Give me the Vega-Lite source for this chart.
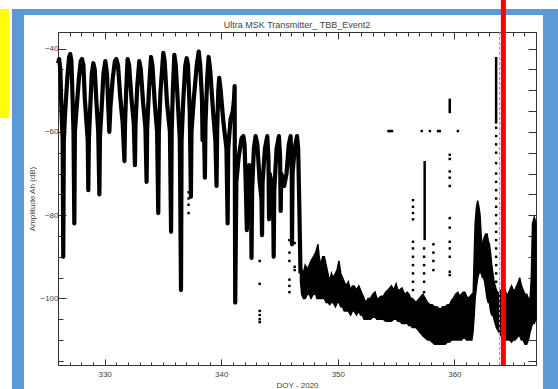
{
  "$schema": "https://vega.github.io/schema/vega-lite/v6.json",
  "width": 478,
  "height": 333,
  "autosize": {"type": "none"},
  "padding": {"left": 58, "top": 32, "right": 22, "bottom": 24},
  "background": "white",
  "title": {"text": "Ultra MSK Transmitter_ TBB_Event2", "fontSize": 9, "fontWeight": "normal", "color": "#444", "offset": 0, "dy": 33, "frame": "group", "font": "Liberation Sans"},
  "config": {"view": {"stroke": null}, "font": "Liberation Sans"},
  "datasets": {
    "yellowbox": [{"doy": 321.03, "doy2": 321.8, "amp": -30.47, "amp2": -56.66}],
    "frame": [
      {"doy": 322.05, "doy2": 368.9, "amp": -30.47, "amp2": -31.92},
      {"doy": 322.05, "doy2": 323.08, "amp": -30.47, "amp2": -121.8},
      {"doy": 367.6, "doy2": 368.9, "amp": -30.47, "amp2": -121.8}
    ],
    "trace": [
      {"doy": 326.0, "amp": -43.5}, {"doy": 326.1, "amp": -42.5}, {"doy": 326.2, "amp": -45}, {"doy": 326.3, "amp": -55}, {"doy": 326.4, "amp": -62}, {"doy": 326.45, "amp": -90}, {"doy": 326.5, "amp": -62}, {"doy": 326.6, "amp": -56}, {"doy": 326.8, "amp": -47}, {"doy": 326.95, "amp": -42},
      {"doy": 327.05, "amp": -41.3}, {"doy": 327.15, "amp": -43}, {"doy": 327.25, "amp": -52}, {"doy": 327.33, "amp": -60}, {"doy": 327.4, "amp": -82}, {"doy": 327.45, "amp": -60}, {"doy": 327.55, "amp": -56}, {"doy": 327.8, "amp": -47}, {"doy": 327.95, "amp": -43},
      {"doy": 328.06, "amp": -42.5}, {"doy": 328.18, "amp": -44}, {"doy": 328.3, "amp": -52}, {"doy": 328.45, "amp": -58}, {"doy": 328.55, "amp": -62}, {"doy": 328.6, "amp": -74}, {"doy": 328.65, "amp": -62}, {"doy": 328.75, "amp": -55}, {"doy": 328.9, "amp": -46},
      {"doy": 329.03, "amp": -43.5}, {"doy": 329.15, "amp": -45}, {"doy": 329.3, "amp": -53}, {"doy": 329.45, "amp": -60}, {"doy": 329.55, "amp": -75}, {"doy": 329.6, "amp": -61}, {"doy": 329.75, "amp": -54}, {"doy": 329.9, "amp": -46},
      {"doy": 330.06, "amp": -43}, {"doy": 330.2, "amp": -46}, {"doy": 330.3, "amp": -53}, {"doy": 330.4, "amp": -60}, {"doy": 330.5, "amp": -54}, {"doy": 330.7, "amp": -47}, {"doy": 330.88, "amp": -43},
      {"doy": 331.0, "amp": -42.5}, {"doy": 331.15, "amp": -44}, {"doy": 331.35, "amp": -52}, {"doy": 331.55, "amp": -58}, {"doy": 331.7, "amp": -67}, {"doy": 331.75, "amp": -58}, {"doy": 331.85, "amp": -50},
      {"doy": 331.97, "amp": -42.5}, {"doy": 332.1, "amp": -44}, {"doy": 332.3, "amp": -52}, {"doy": 332.5, "amp": -58}, {"doy": 332.6, "amp": -68}, {"doy": 332.65, "amp": -58}, {"doy": 332.8, "amp": -49},
      {"doy": 332.97, "amp": -43}, {"doy": 333.1, "amp": -45}, {"doy": 333.3, "amp": -53}, {"doy": 333.5, "amp": -59}, {"doy": 333.6, "amp": -72}, {"doy": 333.65, "amp": -59}, {"doy": 333.8, "amp": -50},
      {"doy": 333.98, "amp": -42}, {"doy": 334.1, "amp": -44}, {"doy": 334.3, "amp": -53}, {"doy": 334.5, "amp": -60}, {"doy": 334.6, "amp": -79.5}, {"doy": 334.65, "amp": -60}, {"doy": 334.8, "amp": -50},
      {"doy": 335.03, "amp": -41}, {"doy": 335.15, "amp": -43}, {"doy": 335.35, "amp": -53}, {"doy": 335.6, "amp": -60}, {"doy": 335.7, "amp": -84}, {"doy": 335.75, "amp": -60}, {"doy": 335.85, "amp": -50},
      {"doy": 335.98, "amp": -41.5}, {"doy": 336.1, "amp": -44}, {"doy": 336.3, "amp": -54}, {"doy": 336.45, "amp": -62}, {"doy": 336.55, "amp": -98}, {"doy": 336.6, "amp": -62}, {"doy": 336.75, "amp": -52}, {"doy": 336.92, "amp": -44},
      {"doy": 337.04, "amp": -42.3}, {"doy": 337.15, "amp": -44}, {"doy": 337.3, "amp": -55}, {"doy": 337.4, "amp": -75.6}, {"doy": 337.45, "amp": -60}, {"doy": 337.65, "amp": -52}, {"doy": 337.9, "amp": -44},
      {"doy": 338.07, "amp": -40.7}, {"doy": 338.2, "amp": -44}, {"doy": 338.35, "amp": -52}, {"doy": 338.4, "amp": -62}, {"doy": 338.5, "amp": -56}, {"doy": 338.6, "amp": -71}, {"doy": 338.65, "amp": -58}, {"doy": 338.8, "amp": -47},
      {"doy": 338.92, "amp": -42}, {"doy": 339.05, "amp": -45}, {"doy": 339.3, "amp": -55}, {"doy": 339.5, "amp": -62}, {"doy": 339.6, "amp": -73}, {"doy": 339.65, "amp": -60}, {"doy": 339.75, "amp": -50},
      {"doy": 339.83, "amp": -47}, {"doy": 339.95, "amp": -50}, {"doy": 340.2, "amp": -58}, {"doy": 340.45, "amp": -64}, {"doy": 340.55, "amp": -82}, {"doy": 340.6, "amp": -64}, {"doy": 340.8, "amp": -57},
      {"doy": 341.0, "amp": -55}, {"doy": 341.1, "amp": -52}, {"doy": 341.15, "amp": -49}, {"doy": 341.2, "amp": -101}, {"doy": 341.3, "amp": -72},
      {"doy": 341.5, "amp": -66}, {"doy": 341.75, "amp": -61.5}, {"doy": 341.9, "amp": -61}, {"doy": 342.0, "amp": -63}, {"doy": 342.1, "amp": -72}, {"doy": 342.2, "amp": -83.6}, {"doy": 342.25, "amp": -72},
      {"doy": 342.4, "amp": -68}, {"doy": 342.55, "amp": -75}, {"doy": 342.6, "amp": -90.3}, {"doy": 342.65, "amp": -74}, {"doy": 342.8, "amp": -64}, {"doy": 342.95, "amp": -61},
      {"doy": 343.1, "amp": -63}, {"doy": 343.3, "amp": -72}, {"doy": 343.45, "amp": -76}, {"doy": 343.5, "amp": -84.8}, {"doy": 343.55, "amp": -72}, {"doy": 343.75, "amp": -64}, {"doy": 343.95, "amp": -61},
      {"doy": 344.05, "amp": -66}, {"doy": 344.1, "amp": -81}, {"doy": 344.15, "amp": -70}, {"doy": 344.3, "amp": -72}, {"doy": 344.45, "amp": -76}, {"doy": 344.5, "amp": -90}, {"doy": 344.55, "amp": -74}, {"doy": 344.75, "amp": -64}, {"doy": 344.95, "amp": -61},
      {"doy": 345.05, "amp": -66}, {"doy": 345.1, "amp": -79}, {"doy": 345.15, "amp": -70}, {"doy": 345.4, "amp": -73}, {"doy": 345.6, "amp": -70}, {"doy": 345.8, "amp": -63}, {"doy": 345.95, "amp": -61},
      {"doy": 346.05, "amp": -70}, {"doy": 346.07, "amp": -87}, {"doy": 346.12, "amp": -70}, {"doy": 346.3, "amp": -64}, {"doy": 346.5, "amp": -61}, {"doy": 346.6, "amp": -64}, {"doy": 346.7, "amp": -78}, {"doy": 346.8, "amp": -94}
    ],
    "band": [
      {"doy": 346.8, "amp": -93, "amp2": -96}, {"doy": 346.9, "amp": -93, "amp2": -99}, {"doy": 347.05, "amp": -94, "amp2": -100}, {"doy": 347.2, "amp": -92, "amp2": -100}, {"doy": 347.4, "amp": -93, "amp2": -99}, {"doy": 347.55, "amp": -92, "amp2": -99},
      {"doy": 347.7, "amp": -91, "amp2": -100}, {"doy": 347.9, "amp": -90, "amp2": -99}, {"doy": 348.1, "amp": -89, "amp2": -99}, {"doy": 348.2, "amp": -88, "amp2": -100}, {"doy": 348.3, "amp": -87, "amp2": -100}, {"doy": 348.4, "amp": -90, "amp2": -100},
      {"doy": 348.55, "amp": -92, "amp2": -100}, {"doy": 348.7, "amp": -90, "amp2": -100}, {"doy": 348.85, "amp": -90, "amp2": -100}, {"doy": 349.0, "amp": -92, "amp2": -101}, {"doy": 349.15, "amp": -94, "amp2": -101}, {"doy": 349.3, "amp": -96, "amp2": -101.5},
      {"doy": 349.45, "amp": -94, "amp2": -101}, {"doy": 349.6, "amp": -95, "amp2": -101}, {"doy": 349.8, "amp": -94, "amp2": -102}, {"doy": 349.95, "amp": -93, "amp2": -101}, {"doy": 350.1, "amp": -91, "amp2": -101}, {"doy": 350.25, "amp": -94, "amp2": -102},
      {"doy": 350.4, "amp": -95, "amp2": -102}, {"doy": 350.55, "amp": -96, "amp2": -103}, {"doy": 350.7, "amp": -97, "amp2": -103}, {"doy": 350.9, "amp": -96, "amp2": -103}, {"doy": 351.1, "amp": -98, "amp2": -104}, {"doy": 351.25, "amp": -97, "amp2": -103},
      {"doy": 351.4, "amp": -97, "amp2": -103}, {"doy": 351.6, "amp": -98, "amp2": -104}, {"doy": 351.8, "amp": -97, "amp2": -103}, {"doy": 351.95, "amp": -98, "amp2": -104}, {"doy": 352.1, "amp": -99, "amp2": -104}, {"doy": 352.25, "amp": -100, "amp2": -105},
      {"doy": 352.4, "amp": -101, "amp2": -105}, {"doy": 352.6, "amp": -100, "amp2": -105}, {"doy": 352.8, "amp": -100, "amp2": -105}, {"doy": 353.0, "amp": -99, "amp2": -104.5}, {"doy": 353.2, "amp": -98.5, "amp2": -104.5}, {"doy": 353.35, "amp": -100, "amp2": -105},
      {"doy": 353.5, "amp": -100, "amp2": -105}, {"doy": 353.7, "amp": -99.5, "amp2": -105}, {"doy": 353.9, "amp": -99.5, "amp2": -105}, {"doy": 354.1, "amp": -98.5, "amp2": -105.5}, {"doy": 354.3, "amp": -98, "amp2": -105.5}, {"doy": 354.45, "amp": -97.5, "amp2": -105.5},
      {"doy": 354.6, "amp": -97, "amp2": -105.5}, {"doy": 354.8, "amp": -98, "amp2": -105}, {"doy": 355.0, "amp": -96.5, "amp2": -105}, {"doy": 355.15, "amp": -98, "amp2": -105.5}, {"doy": 355.3, "amp": -98, "amp2": -105.5}, {"doy": 355.5, "amp": -97.5, "amp2": -106},
      {"doy": 355.65, "amp": -98.5, "amp2": -106}, {"doy": 355.8, "amp": -99, "amp2": -106}, {"doy": 355.95, "amp": -98.5, "amp2": -106}, {"doy": 356.1, "amp": -99, "amp2": -106.5}, {"doy": 356.25, "amp": -100, "amp2": -106.5}, {"doy": 356.4, "amp": -100, "amp2": -107},
      {"doy": 356.55, "amp": -100.5, "amp2": -107}, {"doy": 356.7, "amp": -101, "amp2": -107}, {"doy": 356.85, "amp": -100.5, "amp2": -107.5}, {"doy": 357.0, "amp": -100, "amp2": -108}, {"doy": 357.15, "amp": -99.5, "amp2": -108.5}, {"doy": 357.3, "amp": -99, "amp2": -109},
      {"doy": 357.5, "amp": -100, "amp2": -109.5}, {"doy": 357.7, "amp": -101, "amp2": -110}, {"doy": 357.9, "amp": -101.5, "amp2": -110}, {"doy": 358.1, "amp": -101.5, "amp2": -110.5}, {"doy": 358.3, "amp": -102, "amp2": -111}, {"doy": 358.5, "amp": -102, "amp2": -111},
      {"doy": 358.7, "amp": -102.5, "amp2": -111}, {"doy": 358.85, "amp": -102.5, "amp2": -111}, {"doy": 359.0, "amp": -102, "amp2": -111}, {"doy": 359.2, "amp": -102, "amp2": -111}, {"doy": 359.4, "amp": -101.5, "amp2": -110.5}, {"doy": 359.6, "amp": -101.5, "amp2": -110.5},
      {"doy": 359.75, "amp": -100.5, "amp2": -110}, {"doy": 359.9, "amp": -100, "amp2": -110}, {"doy": 360.1, "amp": -99, "amp2": -110}, {"doy": 360.3, "amp": -98.5, "amp2": -110}, {"doy": 360.45, "amp": -99.5, "amp2": -110}, {"doy": 360.6, "amp": -99, "amp2": -110},
      {"doy": 360.75, "amp": -98.5, "amp2": -109.5}, {"doy": 360.9, "amp": -98.5, "amp2": -109.5}, {"doy": 361.05, "amp": -99.5, "amp2": -110}, {"doy": 361.2, "amp": -100, "amp2": -110}, {"doy": 361.35, "amp": -99.5, "amp2": -110}, {"doy": 361.5, "amp": -99, "amp2": -110},
      {"doy": 361.6, "amp": -100, "amp2": -108}, {"doy": 361.7, "amp": -90, "amp2": -104}, {"doy": 361.78, "amp": -82, "amp2": -100}, {"doy": 361.9, "amp": -78, "amp2": -97}, {"doy": 362.0, "amp": -76.5, "amp2": -95}, {"doy": 362.1, "amp": -78, "amp2": -94},
      {"doy": 362.2, "amp": -80, "amp2": -93}, {"doy": 362.3, "amp": -85, "amp2": -94}, {"doy": 362.4, "amp": -88, "amp2": -95}, {"doy": 362.5, "amp": -86, "amp2": -95}, {"doy": 362.6, "amp": -85, "amp2": -96}, {"doy": 362.7, "amp": -84.5, "amp2": -98},
      {"doy": 362.8, "amp": -84.5, "amp2": -100}, {"doy": 362.9, "amp": -86, "amp2": -101}, {"doy": 363.0, "amp": -87, "amp2": -101}, {"doy": 363.1, "amp": -89, "amp2": -103}, {"doy": 363.2, "amp": -92, "amp2": -104}, {"doy": 363.3, "amp": -94, "amp2": -104},
      {"doy": 363.4, "amp": -96, "amp2": -105}, {"doy": 363.5, "amp": -97, "amp2": -106}, {"doy": 363.6, "amp": -98, "amp2": -107}, {"doy": 363.8, "amp": -99, "amp2": -108}, {"doy": 364.0, "amp": -98, "amp2": -109}, {"doy": 364.3, "amp": -97.5, "amp2": -110},
      {"doy": 364.45, "amp": -99, "amp2": -110}, {"doy": 364.6, "amp": -99, "amp2": -110}, {"doy": 364.75, "amp": -98, "amp2": -110}, {"doy": 364.9, "amp": -97, "amp2": -110.5}, {"doy": 365.05, "amp": -98, "amp2": -110}, {"doy": 365.2, "amp": -98, "amp2": -110},
      {"doy": 365.35, "amp": -97, "amp2": -109.5}, {"doy": 365.5, "amp": -96, "amp2": -109}, {"doy": 365.6, "amp": -95, "amp2": -109}, {"doy": 365.75, "amp": -97, "amp2": -110}, {"doy": 365.9, "amp": -98, "amp2": -110}, {"doy": 366.05, "amp": -99, "amp2": -111},
      {"doy": 366.2, "amp": -99, "amp2": -111}, {"doy": 366.35, "amp": -100, "amp2": -110}, {"doy": 366.5, "amp": -100, "amp2": -108}, {"doy": 366.6, "amp": -95, "amp2": -107}, {"doy": 366.7, "amp": -82, "amp2": -106}, {"doy": 366.85, "amp": -80.5, "amp2": -106},
      {"doy": 367.0, "amp": -82, "amp2": -105}
    ],
    "dots": [
      {"doy": 337.2, "amp": -74.5}, {"doy": 337.2, "amp": -76}, {"doy": 337.2, "amp": -77.5}, {"doy": 337.2, "amp": -79.5},
      {"doy": 343.3, "amp": -91}, {"doy": 343.3, "amp": -96.5}, {"doy": 343.3, "amp": -103}, {"doy": 343.3, "amp": -104}, {"doy": 343.3, "amp": -105}, {"doy": 343.3, "amp": -105.7},
      {"doy": 345.85, "amp": -86}, {"doy": 345.85, "amp": -89}, {"doy": 345.85, "amp": -91}, {"doy": 345.85, "amp": -95.5}, {"doy": 345.85, "amp": -97}, {"doy": 345.85, "amp": -98.5},
      {"doy": 346.3, "amp": -86.7}, {"doy": 346.3, "amp": -92.4}, {"doy": 346.3, "amp": -93.2},
      {"doy": 354.35, "amp": -59.8}, {"doy": 354.5, "amp": -59.8}, {"doy": 354.65, "amp": -59.8},
      {"doy": 357.2, "amp": -59.8}, {"doy": 357.9, "amp": -59.8}, {"doy": 358.6, "amp": -59.8}, {"doy": 358.75, "amp": -59.8}, {"doy": 360.3, "amp": -59.8},
      {"doy": 356.45, "amp": -76.4}, {"doy": 356.45, "amp": -78}, {"doy": 356.45, "amp": -79.5}, {"doy": 356.45, "amp": -81}, {"doy": 356.45, "amp": -86.4}, {"doy": 356.45, "amp": -88}, {"doy": 356.45, "amp": -90}, {"doy": 356.45, "amp": -92}, {"doy": 356.45, "amp": -94}, {"doy": 356.45, "amp": -96}, {"doy": 356.45, "amp": -98},
      {"doy": 357.4, "amp": -88}, {"doy": 357.4, "amp": -90}, {"doy": 357.4, "amp": -92}, {"doy": 357.4, "amp": -94}, {"doy": 357.4, "amp": -96}, {"doy": 357.4, "amp": -98.5},
      {"doy": 358.2, "amp": -87}, {"doy": 358.2, "amp": -89}, {"doy": 358.2, "amp": -91}, {"doy": 358.2, "amp": -93.2},
      {"doy": 359.6, "amp": -65.5}, {"doy": 359.6, "amp": -66.5}, {"doy": 359.6, "amp": -69.5}, {"doy": 359.6, "amp": -71}, {"doy": 359.6, "amp": -73}, {"doy": 359.6, "amp": -80.7}, {"doy": 359.6, "amp": -83}, {"doy": 359.6, "amp": -86.4}, {"doy": 359.6, "amp": -88}, {"doy": 359.6, "amp": -90}, {"doy": 359.6, "amp": -93.6}, {"doy": 359.6, "amp": -94.4},
      {"doy": 363.58, "amp": -59}, {"doy": 363.58, "amp": -61}, {"doy": 363.58, "amp": -63}, {"doy": 363.58, "amp": -65}, {"doy": 363.58, "amp": -67.5}, {"doy": 363.58, "amp": -70}, {"doy": 363.58, "amp": -72}, {"doy": 363.58, "amp": -74}, {"doy": 363.58, "amp": -76}, {"doy": 363.58, "amp": -78},
      {"doy": 363.58, "amp": -80}, {"doy": 363.58, "amp": -82}, {"doy": 363.58, "amp": -84}, {"doy": 363.58, "amp": -86}, {"doy": 363.58, "amp": -88}, {"doy": 363.58, "amp": -90}, {"doy": 363.58, "amp": -92}, {"doy": 363.58, "amp": -94}, {"doy": 363.58, "amp": -96}
    ],
    "columns": [
      {"doy": 357.45, "amp": -67, "amp2": -86},
      {"doy": 359.6, "amp": -52, "amp2": -55.5},
      {"doy": 363.58, "amp": -42, "amp2": -58}
    ],
    "markerline": [{"doy": 363.87, "amp": -36, "amp2": -116}],
    "redline": [{"doy": 364.2, "amp": -116, "amp2": -28.3}]
  },
  "resolve": {"axis": {"x": "independent", "y": "independent"}},
  "layer": [
    {
      "data": {"name": "yellowbox"},
      "mark": {"type": "rect", "color": "#ffff00"},
      "encoding": {
        "x": {"field": "doy", "type": "quantitative", "scale": {"domain": [326, 367], "nice": false, "zero": false}, "axis": null},
        "x2": {"field": "doy2"},
        "y": {"field": "amp", "type": "quantitative", "scale": {"domain": [-116, -36], "nice": false, "zero": false}, "axis": null},
        "y2": {"field": "amp2"}
      }
    },
    {
      "data": {"name": "frame"},
      "mark": {"type": "rect", "color": "#5b9bd5"},
      "encoding": {
        "x": {"field": "doy", "type": "quantitative", "scale": {"domain": [326, 367], "nice": false, "zero": false}, "axis": null},
        "x2": {"field": "doy2"},
        "y": {"field": "amp", "type": "quantitative", "scale": {"domain": [-116, -36], "nice": false, "zero": false}, "axis": null},
        "y2": {"field": "amp2"}
      }
    },
    {
      "mark": {"type": "rule", "color": "#222", "strokeWidth": 1, "strokeDash": [4, 3, 1, 3]},
      "encoding": {
        "y": {"datum": -79, "type": "quantitative", "scale": {"domain": [-116, -36], "nice": false, "zero": false}, "axis": null}
      }
    },
    {
      "data": {"name": "trace"},
      "mark": {"type": "line", "color": "#000", "strokeWidth": 4.2, "strokeJoin": "round"},
      "encoding": {
        "x": {"field": "doy", "type": "quantitative", "scale": {"domain": [326, 367], "nice": false, "zero": false},
          "axis": {"orient": "bottom", "title": "DOY - 2020", "values": [326,327,328,329,330,331,332,333,334,335,336,337,338,339,340,341,342,343,344,345,346,347,348,349,350,351,352,353,354,355,356,357,358,359,360,361,362,363,364,365,366,367],
            "labelExpr": "datum.value % 10 === 0 ? datum.label : ''", "format": "d", "grid": false,
            "tickSize": {"condition": {"test": "datum.value % 10 === 0", "value": -6}, "value": -3},
            "domainColor": "#333", "tickColor": "#333", "labelFontSize": 8, "labelColor": "#444", "labelPadding": 11,
            "titleFontSize": 8, "titleFontWeight": "normal", "titleColor": "#444", "titlePadding": 3}},
        "y": {"field": "amp", "type": "quantitative", "scale": {"domain": [-116, -36], "nice": false, "zero": false},
          "axis": {"orient": "left", "title": "Amplitude Ah (dB)", "values": [-115,-110,-105,-100,-95,-90,-85,-80,-75,-70,-65,-60,-55,-50,-45,-40],
            "labelExpr": "datum.value % 20 === 0 ? datum.label : ''", "format": "d", "grid": false,
            "tickSize": {"condition": {"test": "datum.value % 20 === 0", "value": -8}, "value": -5},
            "domainColor": "#333", "tickColor": "#333", "labelFontSize": 8, "labelColor": "#444", "labelPadding": 8,
            "titleFontSize": 8, "titleFontWeight": "normal", "titleColor": "#444", "titlePadding": 3}}
      }
    },
    {
      "data": {"name": "band"},
      "mark": {"type": "area", "color": "#000", "stroke": "#000", "strokeWidth": 1.5, "opacity": 1},
      "encoding": {
        "x": {"field": "doy", "type": "quantitative", "scale": {"domain": [326, 367], "nice": false, "zero": false}, "axis": null},
        "y": {"field": "amp", "type": "quantitative", "scale": {"domain": [-116, -36], "nice": false, "zero": false}, "axis": null},
        "y2": {"field": "amp2"}
      }
    },
    {
      "data": {"name": "dots"},
      "mark": {"type": "square", "color": "#000", "size": 6, "opacity": 1},
      "encoding": {
        "x": {"field": "doy", "type": "quantitative", "scale": {"domain": [326, 367], "nice": false, "zero": false}, "axis": null},
        "y": {"field": "amp", "type": "quantitative", "scale": {"domain": [-116, -36], "nice": false, "zero": false}, "axis": null}
      }
    },
    {
      "data": {"name": "columns"},
      "mark": {"type": "rule", "color": "#000", "strokeWidth": 2.5},
      "encoding": {
        "x": {"field": "doy", "type": "quantitative", "scale": {"domain": [326, 367], "nice": false, "zero": false}, "axis": null},
        "y": {"field": "amp", "type": "quantitative", "scale": {"domain": [-116, -36], "nice": false, "zero": false}, "axis": null},
        "y2": {"field": "amp2"}
      }
    },
    {
      "data": {"name": "markerline"},
      "mark": {"type": "rule", "color": "#ff8080", "strokeWidth": 1, "strokeDash": [3, 2]},
      "encoding": {
        "x": {"field": "doy", "type": "quantitative", "scale": {"domain": [326, 367], "nice": false, "zero": false},
          "axis": {"orient": "top", "title": null, "labels": false, "grid": false, "values": [326,327,328,329,330,331,332,333,334,335,336,337,338,339,340,341,342,343,344,345,346,347,348,349,350,351,352,353,354,355,356,357,358,359,360,361,362,363,364,365,366,367],
            "tickSize": {"condition": {"test": "datum.value % 10 === 0", "value": -7}, "value": -4},
            "domainColor": "#333", "tickColor": "#333"}},
        "y": {"field": "amp", "type": "quantitative", "scale": {"domain": [-116, -36], "nice": false, "zero": false},
          "axis": {"orient": "right", "title": null, "labels": false, "grid": false, "values": [-115,-110,-105,-100,-95,-90,-85,-80,-75,-70,-65,-60,-55,-50,-45,-40],
            "tickSize": -8, "domainColor": "#333", "tickColor": "#333"}},
        "y2": {"field": "amp2"}
      }
    },
    {
      "data": {"name": "redline"},
      "mark": {"type": "rule", "color": "#ff0000", "strokeWidth": 5},
      "encoding": {
        "x": {"field": "doy", "type": "quantitative", "scale": {"domain": [326, 367], "nice": false, "zero": false}, "axis": null},
        "y": {"field": "amp", "type": "quantitative", "scale": {"domain": [-116, -36], "nice": false, "zero": false}, "axis": null},
        "y2": {"field": "amp2"}
      }
    }
  ]
}
